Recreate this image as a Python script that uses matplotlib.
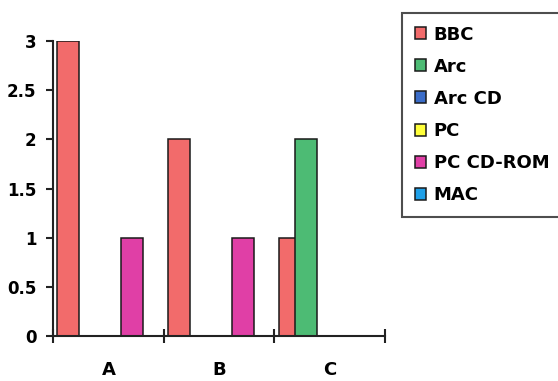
import matplotlib
matplotlib.use('Agg')
import matplotlib.pyplot as plt
import numpy as np

categorias = ['A', 'B', 'C']
series = ['BBC', 'Arc', 'Arc CD', 'PC', 'PC CD-ROM', 'MAC']
valores_bbc = [3, 2, 1]
valores_arc = [0, 0, 2]
valores_arc_cd = [0, 0, 0]
valores_pc = [0, 0, 0]
valores_pc_cdrom = [1, 1, 0]
valores_mac = [0, 0, 0]
colores = ['#F26B6B', '#4DBB74', '#3A6CC8', '#FFFF3A', '#E03FA6', '#1FA0E8']

plt.rcParams['font.family'] = ['DejaVu Sans']
plt.rcParams['font.weight'] = 'bold'

datos = [valores_bbc, valores_arc, valores_arc_cd, valores_pc, valores_pc_cdrom, valores_mac]

fig = plt.figure(figsize=(5.58, 3.81), dpi=100)
ax = fig.add_axes([0.095, 0.118, 0.595, 0.774])

x = np.arange(len(categorias)) + 0.5
paso = 0.145
ancho = 0.2
barras = []
for i, (nombre, vals) in enumerate(zip(series, datos)):
    b = ax.bar(x + (i - 2.5) * paso, vals, width=ancho, color=colores[i],
               edgecolor='#1a1a1a', linewidth=1.1, label=nombre)
    barras.append(b)

ax.set_xlim(0, 3)
ax.set_ylim(0, 3)
ax.set_yticks([0, 0.5, 1, 1.5, 2, 2.5, 3])
ax.set_yticklabels(['0', '0.5', '1', '1.5', '2', '2.5', '3'])
ax.set_xticks([0, 1, 2, 3])
ax.set_xticklabels([])
ax.set_xticks(x, minor=True)
ax.set_xticklabels(categorias, minor=True)
ax.tick_params(axis='x', which='major', direction='inout', length=10, width=1.5, color='#222222')
ax.tick_params(axis='x', which='minor', length=0, pad=18, labelsize=13)
ax.tick_params(axis='y', direction='out', length=5, width=1.5, pad=7, labelsize=12, color='#222222')

for lado in ['top', 'right']:
    ax.spines[lado].set_visible(False)
for lado in ['left', 'bottom']:
    ax.spines[lado].set_linewidth(1.5)
    ax.spines[lado].set_color('#222222')

leg = fig.legend(handles=barras, loc='upper left',
                 bbox_to_anchor=(402 / 558, 1 - 13 / 381, 0.33, 0.0),
                 mode='expand', fontsize=13, frameon=True, fancybox=False,
                 edgecolor='#222222', handlelength=0.65, handleheight=0.65,
                 handletextpad=0.4, labelspacing=0.78, borderpad=0.7,
                 borderaxespad=0)
leg.get_frame().set_linewidth(1.5)

fig.savefig('out.png', dpi=100)
